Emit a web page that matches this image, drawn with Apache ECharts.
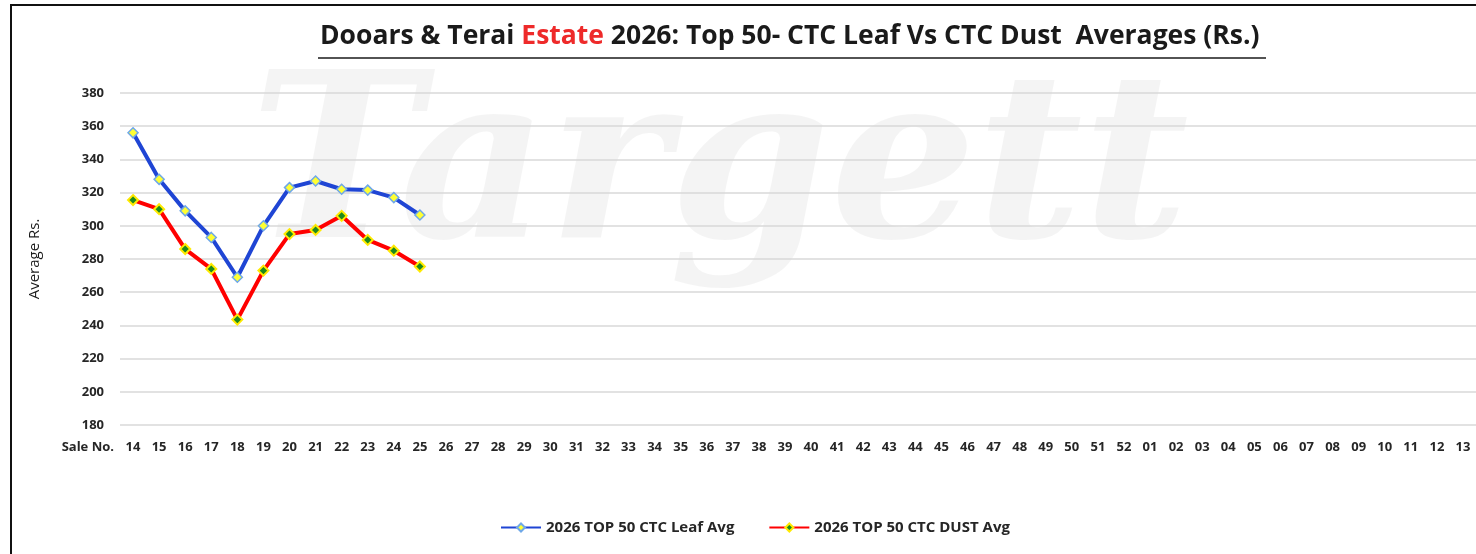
<!DOCTYPE html>
<html>
<head>
<meta charset="utf-8">
<script src="https://cdn.jsdelivr.net/npm/echarts@6/dist/echarts.min.js"></script>
<style>
    html, body { margin: 0; padding: 0; background: #ffffff; }
    #chart { width: 1476px; height: 554px; }
</style>
</head>
<body>
<div id="chart"></div>
<script>
// sale numbers, season runs 14..52 then 01..13
const saleNos = ['14', '15', '16', '17', '18', '19', '20', '21', '22', '23', '24', '25', '26',
    '27', '28', '29', '30', '31', '32', '33', '34', '35', '36', '37', '38', '39', '40', '41',
    '42', '43', '44', '45', '46', '47', '48', '49', '50', '51', '52', '01', '02', '03', '04',
    '05', '06', '07', '08', '09', '10', '11', '12', '13'];
const leafAvg = [356, 328, 309, 293, 269, 300, 323, 327, 322, 321.5, 317, 306.5];
const dustAvg = [315.5, 310, 286, 274, 243.5, 273, 295, 297.5, 306, 291.5, 285, 275.5];
const yTicks = { min: 180, max: 380, step: 20 };

const font = '"Open Sans", "Liberation Sans", sans-serif';
const chart = echarts.init(document.getElementById('chart'));

chart.setOption({
    backgroundColor: '#ffffff',
    textStyle: { fontFamily: font },
    title: {
        text: '{a|Dooars & Terai }{b|Estate}{a| 2026: Top 50- CTC Leaf Vs CTC Dust  Averages (Rs.)}',
        left: 320,
        top: 23,
        padding: 0,
        textStyle: {
            rich: {
                a: { fontFamily: font, fontSize: 26.5, fontWeight: 'bold', color: '#1a1a1a' },
                b: { fontFamily: font, fontSize: 26.5, fontWeight: 'bold', color: '#ee2a2a' },
            },
        },
    },
    graphic: [
        // faint watermark
        {
            type: 'text',
            left: 250,
            top: 62,
            z: -10,
            silent: true,
            style: {
                text: 'Targett',
                font: 'italic bold 230px "DejaVu Serif", serif',
                fill: 'rgba(0,0,0,0.045)',
            },
        },
        // title underline
        {
            type: 'line',
            shape: { x1: 318, y1: 58, x2: 1266, y2: 58 },
            style: { stroke: '#1a1a1a', lineWidth: 1.5 },
        },
        // frame left and top
        {
            type: 'polyline',
            shape: { points: [[11, 554], [11, 5], [1476, 5]] },
            style: { stroke: '#111', lineWidth: 2, fill: null },
        },
    ],
    legend: {
        bottom: 14,
        left: 495,
        itemGap: 34,
        itemWidth: 40,
        itemHeight: 10,
        textStyle: { fontFamily: font, fontSize: 15, fontWeight: 'bold', color: '#262626' },
        data: ['2026 TOP 50 CTC Leaf Avg', '2026 TOP 50 CTC DUST Avg'],
    },
    grid: {
        left: 120,
        right: 0,
        top: 93,
        bottom: 129,
        containLabel: false,
    },
    xAxis: {
        type: 'category',
        data: saleNos,
        boundaryGap: true,
        name: 'Sale No.',
        nameLocation: 'start',
        nameGap: 6,
        nameTextStyle: {
            fontFamily: font, fontSize: 13, fontWeight: 'bold', color: '#262626',
            verticalAlign: 'top', padding: [16, 0, 0, 0],
        },
        axisLine: { show: false },
        axisTick: { show: false },
        axisLabel: {
            interval: 0,
            margin: 16,
            fontFamily: font, fontSize: 13, fontWeight: 'bold', color: '#262626',
        },
    },
    yAxis: {
        type: 'value',
        min: yTicks.min,
        max: yTicks.max,
        interval: yTicks.step,
        name: 'Average Rs.',
        nameLocation: 'middle',
        nameGap: 78,
        nameTextStyle: { fontFamily: font, fontSize: 15, color: '#1a1a1a' },
        axisLine: { show: false },
        axisTick: { show: false },
        axisLabel: {
            margin: 16,
            fontFamily: font, fontSize: 13, fontWeight: 'bold', color: '#262626',
        },
        splitLine: { lineStyle: { color: '#d9d9d9', width: 1.5 } },
    },
    series: [
        {
            name: '2026 TOP 50 CTC Leaf Avg',
            type: 'line',
            data: leafAvg,
            symbol: 'diamond',
            symbolSize: 10,
            lineStyle: { color: '#1f45d4', width: 4 },
            itemStyle: { color: '#ffff33', borderColor: '#6fa8e8', borderWidth: 1.5 },
            z: 3,
        },
        {
            name: '2026 TOP 50 CTC DUST Avg',
            type: 'line',
            data: dustAvg,
            symbol: 'diamond',
            symbolSize: 10,
            lineStyle: { color: '#ff0000', width: 4 },
            itemStyle: { color: '#1d8a1d', borderColor: '#ffea00', borderWidth: 2 },
            z: 2,
        },
    ],
});
</script>
</body>
</html>
